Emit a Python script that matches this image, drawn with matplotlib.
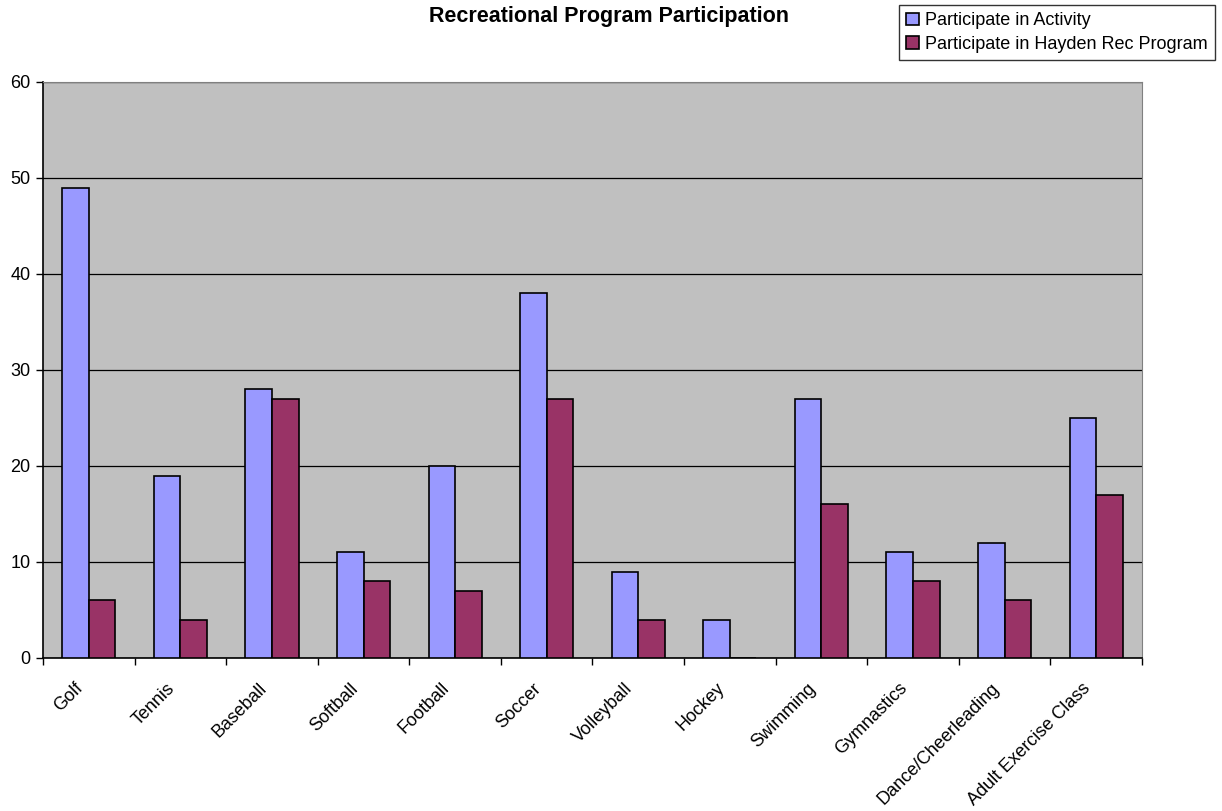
import numpy as np
import matplotlib.pyplot as plt
from matplotlib.transforms import ScaledTranslation

plt.rcParams['font.family'] = ['Liberation Sans', 'DejaVu Sans']

activities = ["Golf", "Tennis", "Baseball", "Softball", "Football", "Soccer",
              "Volleyball", "Hockey", "Swimming", "Gymnastics",
              "Dance/Cheerleading", "Adult Exercise Class"]
participate_activity = [49, 19, 28, 11, 20, 38, 9, 4, 27, 11, 12, 25]
participate_hayden = [6, 4, 27, 8, 7, 27, 4, 0, 16, 8, 6, 17]

fig = plt.figure(figsize=(12.22, 8.11), dpi=100)
ax = fig.add_axes([0.0352, 0.1887, 0.8993, 0.7102])
ax.set_facecolor('#C0C0C0')

x = np.arange(len(activities))
w = 0.29
ax.bar(x - w / 2, participate_activity, w, color='#9999FF', edgecolor='black',
       linewidth=1.2, label='Participate in Activity', zorder=3)
ax.bar(x + w / 2, participate_hayden, w, color='#993366', edgecolor='black',
       linewidth=1.2, label='Participate in Hayden Rec Program', zorder=3)

ax.set_xlim(-0.5, len(activities) - 0.5)
ax.set_ylim(0, 60)
ax.set_yticks(range(0, 61, 10))
ax.yaxis.grid(True, color='black', linewidth=0.9, zorder=1)

# category boundaries get the tick marks, names sit in the middle
ax.set_xticks(np.arange(-0.5, len(activities), 1))
ax.set_xticklabels([])
ax.set_xticks(x, minor=True)
ax.set_xticklabels(activities, minor=True, rotation=45, ha='right',
                   rotation_mode='anchor', fontsize=13)
ax.tick_params(axis='x', which='minor', length=0, pad=10)
ax.tick_params(axis='x', which='major', length=5, width=1)
ax.tick_params(axis='y', length=5, width=1, labelsize=13, pad=4)

shift = ScaledTranslation(-0.14, -0.08, fig.dpi_scale_trans)
for lbl in ax.get_xticklabels(minor=True):
    lbl.set_transform(lbl.get_transform() + shift)

for side in ['top', 'right']:
    ax.spines[side].set_color('#808080')
for side in ['left', 'bottom']:
    ax.spines[side].set_color('black')
    ax.spines[side].set_linewidth(1.2)

fig.text(0.498, 0.980, 'Recreational Program Participation', ha='center',
         va='center', fontsize=15.5, fontweight='bold')

leg = fig.legend(loc='upper right', bbox_to_anchor=(0.9943, 0.9938),
                 fontsize=13, frameon=True, fancybox=False, handlelength=0.7,
                 handleheight=0.7, handletextpad=0.35, borderpad=0.4,
                 labelspacing=0.35, borderaxespad=0)
leg.get_frame().set_edgecolor('black')
leg.get_frame().set_linewidth(1)

fig.savefig('out.png', dpi=100)
